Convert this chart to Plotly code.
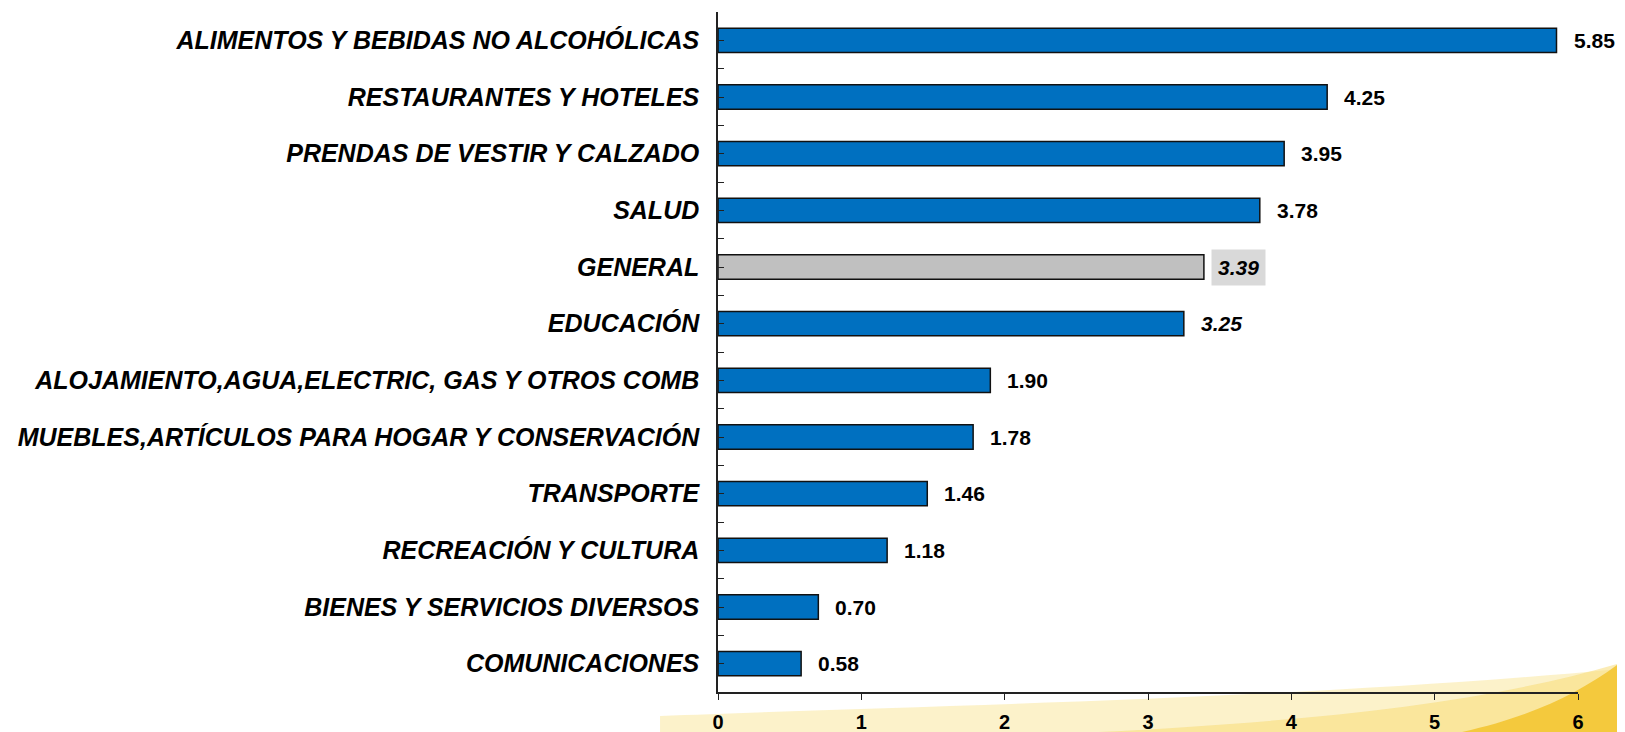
import plotly.graph_objects as go

categories = [
    "ALIMENTOS Y BEBIDAS NO ALCOHÓLICAS",
    "RESTAURANTES Y HOTELES",
    "PRENDAS DE VESTIR Y CALZADO",
    "SALUD",
    "GENERAL",
    "EDUCACIÓN",
    "ALOJAMIENTO,AGUA,ELECTRIC, GAS Y OTROS COMB",
    "MUEBLES,ARTÍCULOS PARA HOGAR Y CONSERVACIÓN",
    "TRANSPORTE",
    "RECREACIÓN Y CULTURA",
    "BIENES Y SERVICIOS DIVERSOS",
    "COMUNICACIONES",
]
values = [5.85, 4.25, 3.95, 3.78, 3.39, 3.25, 1.90, 1.78, 1.46, 1.18, 0.70, 0.58]
x_ticks = [0, 1, 2, 3, 4, 5, 6]

BLUE = "#0070C0"
GRAY = "#C0C0C0"
colors = [GRAY if c == "GENERAL" else BLUE for c in categories]
ypos = list(range(len(categories)))

# page body has an 8px margin; size the figure so it fills the 1625x732 window
OFF = 8
W, H = 1625 - OFF, 732 - OFF
L, R, T, B = 718 - OFF, 47, 12 - OFF, 40

fig = go.Figure()
fig.add_trace(go.Bar(
    x=values, y=ypos, orientation="h",
    marker=dict(color=colors, line=dict(color="#111111", width=1.5)),
    width=0.43, hoverinfo="skip",
))

FONT = "Liberation Sans, Arial, sans-serif"
for i, (c, v) in enumerate(zip(categories, values)):
    italic = c in ("GENERAL", "EDUCACIÓN")
    is_gen = c == "GENERAL"
    fig.add_annotation(
        x=v, y=i, xref="x", yref="y", text=f"{v:.2f}", showarrow=False,
        xanchor="left", yanchor="middle",
        xshift=7 if is_gen else 16,
        font=dict(family=FONT, size=21, color="black", weight="bold",
                  style="italic" if italic else "normal"),
        bgcolor="#D9D9D9" if is_gen else None,
        borderpad=6 if is_gen else 0,
    )


# decorative yellow swoosh of the slide template (page pixel -> paper coords)
def px(x, y):
    x, y = x - OFF, y - OFF
    return f"{(x - L) / (W - L - R):.4f} {(H - B - y) / (H - T - B):.4f}"


def swoosh(points, color):
    (m, *rest) = points
    path = "M " + px(*m)
    for seg in rest:
        if len(seg) == 3:
            path += " C " + ", ".join(px(*p) for p in seg)
        else:
            path += " L " + px(*seg)
    path += " Z"
    fig.add_shape(type="path", xref="paper", yref="paper", layer="below",
                  path=path, fillcolor=color, line=dict(width=0))


swoosh([(660, 740), (660, 716), ((900, 706), (1300, 700), (1630, 668)), (1630, 740)],
       "rgba(251,236,180,0.7)")
swoosh([(900, 740), ((1200, 730), (1450, 716), (1630, 660)), (1630, 740)],
       "rgba(248,218,110,0.5)")
swoosh([(1420, 740), ((1520, 724), (1580, 695), (1630, 655)), (1630, 740)],
       "rgba(242,195,45,0.85)")

fig.update_layout(
    width=W, height=H,
    margin=dict(l=L, r=R, t=T, b=B, autoexpand=False),
    paper_bgcolor="white", plot_bgcolor="rgba(0,0,0,0)",
    showlegend=False,
    xaxis=dict(
        range=[0, 6], tickvals=x_ticks, showgrid=False, zeroline=False,
        showline=True, linecolor="#222222", linewidth=1.5,
        ticks="outside", ticklen=6, tickcolor="#222222",
        ticklabelstandoff=5, automargin=False,
        tickfont=dict(family="Liberation Sans Narrow, Arial Narrow, Liberation Sans", size=20,
                      color="black", weight="bold"),
    ),
    yaxis=dict(
        range=[len(categories) - 0.5, -0.5], tickvals=ypos, ticktext=categories,
        showgrid=False, zeroline=False, automargin=False,
        showline=True, linecolor="#222222", linewidth=1.5,
        ticks="inside", ticklen=6, tickcolor="#222222",
        minor=dict(tickvals=[i - 0.5 for i in range(len(categories) + 1)],
                   ticks="inside", ticklen=6, tickcolor="#222222", showgrid=False),
        ticklabelstandoff=12,
        tickfont=dict(family=FONT, size=25, color="black", weight="bold", style="italic"),
    ),
)

fig.write_html("out.html")
